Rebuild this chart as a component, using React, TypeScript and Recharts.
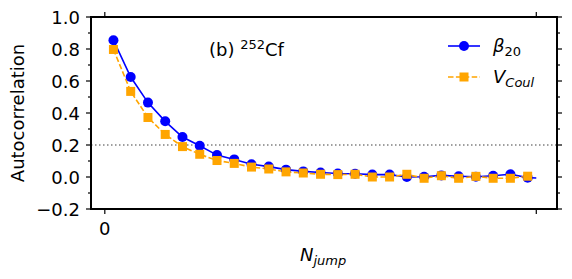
import React from 'react';
import { LineChart, Line, XAxis, YAxis, ReferenceLine } from 'recharts';

// N_jump values where points were sampled (markers on odd steps, blue line runs on to 50)
const nJump = [1, 3, 5, 7, 9, 11, 13, 15, 17, 19, 21, 23, 25, 27, 29, 31, 33, 35, 37, 39, 41, 43, 45, 47, 49, 50];
const beta20 = [0.855, 0.625, 0.465, 0.348, 0.25, 0.195, 0.137, 0.11, 0.08, 0.065, 0.046, 0.035, 0.028, 0.022, 0.02, 0.015, 0.015, 0.0, 0.002, 0.01, 0.005, 0.002, 0.008, 0.017, -0.004, -0.006];
const vCoul = [0.797, 0.535, 0.372, 0.266, 0.19, 0.142, 0.103, 0.085, 0.062, 0.05, 0.032, 0.025, 0.017, 0.015, 0.017, 0.0, 0.0, 0.017, -0.008, 0.008, -0.008, 0.004, -0.008, -0.008, 0.005, null];

const yTicks = [-0.2, -0.1, 0, 0.1, 0.2, 0.3, 0.4, 0.5, 0.6, 0.7, 0.8, 0.9, 1.0];
const xTicks = [0, 50];
const xTickLabels = ['0', ''];
const xDomain = [-1.6, 52.4];
const yDomain = [-0.2, 1.0];
const threshold = 0.2;

const FONT = '"DejaVu Sans", sans-serif';
const BLUE = '#0000ff';
const ORANGE = '#ffa500';
const FS = 18;
const SUB = 13;

const W = 572;
const H = 279;
// plot box (matches chart margins + axis sizes below)
const PLOT = { left: 91, right: 557, top: 17, bottom: 209 };

const data = nJump.map((n, i) => ({ n, beta: beta20[i], vcoul: vCoul[i] }));

const isMajor = (v: number) => Math.round(v * 10) % 2 === 0;
const fmt = (v: number) => (v < 0 ? '\u2212' : '') + Math.abs(v).toFixed(1);
const yPx = (v: number) => PLOT.top + ((yDomain[1] - v) / (yDomain[1] - yDomain[0])) * (PLOT.bottom - PLOT.top);
const xPx = (v: number) => PLOT.left + ((v - xDomain[0]) / (xDomain[1] - xDomain[0])) * (PLOT.right - PLOT.left);

const LeftTick = (props: any) => {
  const { x, y, payload } = props;
  const major = isMajor(payload.value);
  const len = major ? 5 : 3;
  return (
    <g>
      <line x1={x} x2={x - len} y1={y} y2={y} stroke="#000" strokeWidth={1.2} />
      {major && (
        <text x={x - 11} y={y + 6.5} textAnchor="end" fontSize={FS} fontFamily={FONT} fill="#000">
          {fmt(payload.value)}
        </text>
      )}
    </g>
  );
};

const BottomTick = (props: any) => {
  const { x, y, index } = props;
  return (
    <g>
      <line x1={x} x2={x} y1={y} y2={y + 5} stroke="#000" strokeWidth={1.2} />
      <text x={x} y={y + 26} textAnchor="middle" fontSize={FS} fontFamily={FONT} fill="#000">
        {xTickLabels[index] ?? ''}
      </text>
    </g>
  );
};

const CircleDot = (props: any) => {
  const { cx, cy, payload, index } = props;
  if (payload.n === 50 || cy == null) return <g key={`c${index}`} />;
  return <circle key={`c${index}`} cx={cx} cy={cy} r={5} fill={BLUE} />;
};

const SquareDot = (props: any) => {
  const { cx, cy, index } = props;
  if (cy == null) return <g key={`s${index}`} />;
  return <rect key={`s${index}`} x={cx - 4.5} y={cy - 4.5} width={9} height={9} fill={ORANGE} />;
};

const axisLine = { stroke: '#000', strokeWidth: 2, strokeLinecap: 'square' as const };

export default function App() {
  return (
    <div style={{ position: 'relative', margin: -8, width: W, height: H, background: '#fff' }}>
      <LineChart
        width={W}
        height={H}
        data={data}
        margin={{ top: PLOT.top, right: W - PLOT.right, left: 0, bottom: 0 }}
      >
        <XAxis
          dataKey="n"
          type="number"
          domain={xDomain}
          ticks={xTicks}
          allowDataOverflow
          height={H - PLOT.bottom}
          tickSize={0}
          tickMargin={0}
          tickLine={false}
          axisLine={axisLine}
          tick={<BottomTick />}
          interval={0}
        />
        <YAxis
          type="number"
          domain={yDomain}
          ticks={yTicks}
          allowDataOverflow
          width={PLOT.left}
          tickSize={0}
          tickMargin={0}
          tickLine={false}
          axisLine={axisLine}
          tick={<LeftTick />}
          interval={0}
        />
        <ReferenceLine
          y={threshold}
          stroke="#808080"
          strokeWidth={1.5}
          strokeDasharray="1.5 2.5"
        />
        <Line
          dataKey="beta"
          stroke={BLUE}
          strokeWidth={1.6}
          dot={<CircleDot />}
          activeDot={false}
          isAnimationActive={false}
        />
        <Line
          dataKey="vcoul"
          stroke={ORANGE}
          strokeWidth={1.6}
          strokeDasharray="5.5 2.4"
          dot={<SquareDot />}
          activeDot={false}
          connectNulls={false}
          isAnimationActive={false}
        />
      </LineChart>
      <svg
        width={W}
        height={H}
        style={{ position: 'absolute', left: 0, top: 0, pointerEvents: 'none' }}
        fontFamily={FONT}
      >
        {/* top and right spines as filled bars, with mirrored ticks */}
        <rect x={PLOT.left - 1} y={PLOT.top - 1} width={PLOT.right - PLOT.left + 2} height={2} fill="#000" />
        <rect x={PLOT.right - 1} y={PLOT.top - 1} width={2} height={PLOT.bottom - PLOT.top + 2} fill="#000" />
        {yTicks.map((v) => (
          <rect key={`ry${v}`} x={PLOT.right} y={yPx(v) - 0.6} width={isMajor(v) ? 5 : 3} height={1.2} fill="#000" />
        ))}
        {xTicks.map((v) => (
          <rect key={`tx${v}`} x={xPx(v) - 0.6} y={PLOT.top - 5} width={1.2} height={5} fill="#000" />
        ))}

        <text x={24} y={113} transform="rotate(-90 24 113)" textAnchor="middle" fontSize={FS} fill="#000">
          Autocorrelation
        </text>
        <text x={300} y={261} fontSize={FS} fill="#000" fontStyle="italic">
          N<tspan fontSize={SUB} dy={4}>jump</tspan>
        </text>
        <text x={209} y={56} fontSize={FS} fill="#000">
          (b) <tspan fontSize={SUB} dy={-7}>252</tspan>
          <tspan dy={7}>Cf</tspan>
        </text>
        <g>
          <line x1={448} x2={480} y1={46} y2={46} stroke={BLUE} strokeWidth={1.6} />
          <circle cx={464} cy={46} r={5} fill={BLUE} />
          <text x={493} y={52} fontSize={FS} fill="#000">
            <tspan fontStyle="italic">β</tspan>
            <tspan fontSize={SUB} dy={4}>20</tspan>
          </text>
          <line x1={448} x2={480} y1={77} y2={77} stroke={ORANGE} strokeWidth={1.6} strokeDasharray="5.5 2.4" />
          <rect x={459.5} y={72.5} width={9} height={9} fill={ORANGE} />
          <text x={493} y={83} fontSize={FS} fill="#000" fontStyle="italic">
            V<tspan fontSize={SUB} dy={4}>Coul</tspan>
          </text>
        </g>
      </svg>
    </div>
  );
}
